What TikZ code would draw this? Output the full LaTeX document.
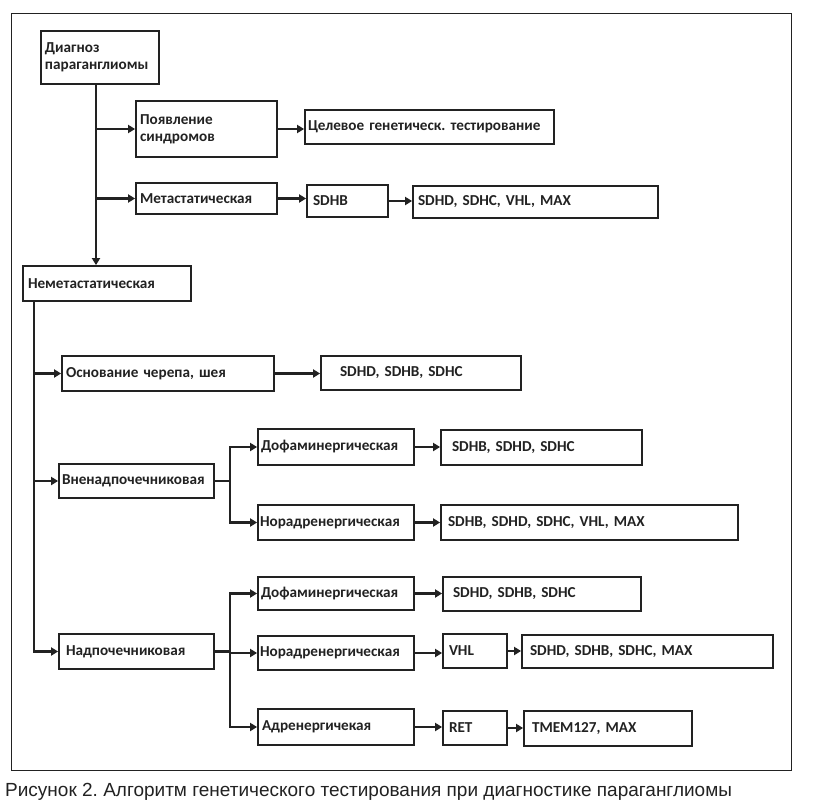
\documentclass[tikz,border=0pt]{standalone}
\usepackage{fontspec}
\setmainfont{Carlito}
\newfontfamily\capfont{Liberation Sans}
\usetikzlibrary{arrows.meta}
\definecolor{ink}{HTML}{222222}
\frenchspacing
\tikzset{
  box/.style={draw=ink, line width=1.8pt, rectangle, align=left, inner ysep=0pt,
    font=\fontsize{15.2}{17}\selectfont\bfseries, text=ink},
  line/.style={draw=ink, line width=2.8pt},
  arr/.style={line, -{Triangle[length=7pt,width=8pt]}},
  frame/.style={draw=ink, line width=1pt}
}
\newcommand\bx[7]{%
  \pgfmathsetmacro\bxcx{(#2+#4)/2}%
  \pgfmathsetmacro\bxcy{(#3+#5)/2}%
  \pgfmathsetmacro\bxw{#4-#2}%
  \pgfmathsetmacro\bxh{#5-#3}%
  \pgfmathsetmacro\bxtw{#4-#2-2*#7}%
  \node[box, minimum width=\bxw pt, minimum height=\bxh pt, text width=\bxtw pt, inner xsep=#7 pt] (#1) at (\bxcx,\bxcy) {#6};}
\begin{document}
\begin{tikzpicture}[x=1pt,y=-1pt]
\useasboundingbox[fill=white] (0,0) rectangle (815,809);
\draw[frame] (11,13) rectangle (791,770);
% boxes
\bx{diag}{41}{31}{159}{84}{Диагноз\\параганглиомы}{4}
\bx{synd}{136}{101}{277}{157}{Появление\\синдромов}{4}
\bx{celev}{305}{110}{554}{144}{Целевое генетическ. тестирование}{3}
\bx{meta}{136}{183}{277}{214}{Метастатическая}{4}
\bx{sdhbA}{307}{185}{388}{217}{SDHB}{6}
\bx{metaT}{413}{186}{658}{218}{SDHD, SDHC, VHL, MAX}{5}
\bx{nemet}{23}{266}{191}{301}{Неметастатическая}{5}
\bx{osn}{62}{356}{274}{391}{Основание черепа, шея}{4}
\bx{osnT}{321}{356}{521}{390}{SDHD, SDHB, SDHC}{19}
\bx{vne}{59}{464}{214}{498}{Вненадпочечниковая}{3}
\bx{dofA}{258}{429}{414}{465}{Дофаминергическая}{3}
\bx{norA}{258}{505}{414}{540}{Норадренергическая}{2}
\bx{dofAT}{441}{430}{642}{465}{SDHB, SDHD, SDHC}{11}
\bx{norAT}{441}{505}{738}{540}{SDHB, SDHD, SDHC, VHL, MAX}{7}
\bx{nadp}{59}{634}{214}{669}{Надпочечниковая}{7}
\bx{dofB}{258}{577}{414}{610}{Дофаминергическая}{3}
\bx{norB}{258}{636}{414}{670}{Норадренергическая}{2}
\bx{adr}{258}{709}{414}{745}{Адренергичекая}{4}
\bx{dofBT}{443}{577}{641}{611}{SDHD, SDHB, SDHC}{10}
\bx{vhl}{443}{634}{507}{668}{VHL}{6}
\bx{norBT}{522}{635}{773}{668}{SDHD, SDHB, SDHC, MAX}{8}
\bx{ret}{443}{711}{507}{745}{RET}{6}
\bx{retT}{524}{711}{692}{746}{TMEM127, MAX}{8}
% junction columns
\coordinate (cA) at (96,0);
\coordinate (cB) at (34,0);
\coordinate (cC) at (230,0);
% connectors
\draw[arr] (diag.south -| cA) -- (nemet.north -| cA);
\draw[arr] (cA |- synd.west) -- (synd.west);
\draw[arr] (cA |- meta.west) -- (meta.west);
\draw[arr] (synd.east) -- (synd.east -| celev.west);
\draw[arr] (meta.east) -- (meta.east -| sdhbA.west);
\draw[arr] (sdhbA.east) -- (sdhbA.east -| metaT.west);
\draw[arr] (nemet.south -| cB) |- (nadp.west);
\draw[arr] (cB |- osn.west) -- (osn.west);
\draw[arr] (cB |- vne.west) -- (vne.west);
\draw[arr] (osn.east) -- (osn.east -| osnT.west);
\draw[line] (vne.east) -- (vne.east -| cC);
\draw[arr] (vne.east -| cC) |- (dofA.west);
\draw[arr] (vne.east -| cC) |- (norA.west);
\draw[arr] (dofA.east) -- (dofA.east -| dofAT.west);
\draw[arr] (norA.east) -- (norA.east -| norAT.west);
\draw[line] (nadp.east) -- (nadp.east -| cC);
\draw[arr] (nadp.east -| cC) |- (dofB.west);
\draw[arr] (nadp.east -| cC) |- (norB.west);
\draw[arr] (nadp.east -| cC) |- (adr.west);
\draw[arr] (dofB.east) -- (dofB.east -| dofBT.west);
\draw[arr] (norB.east) -- (norB.east -| vhl.west);
\draw[arr] (vhl.east) -- (vhl.east -| norBT.west);
\draw[arr] (adr.east) -- (adr.east -| ret.west);
\draw[arr] (ret.east) -- (ret.east -| retT.west);
% caption
\node[anchor=west, inner sep=0pt, font=\capfont\fontsize{19}{21}\selectfont, text=ink] (cap) at (5,792) {Рисунок 2. Алгоритм генетического тестирования при диагностике параганглиомы};
\end{tikzpicture}
\end{document}
